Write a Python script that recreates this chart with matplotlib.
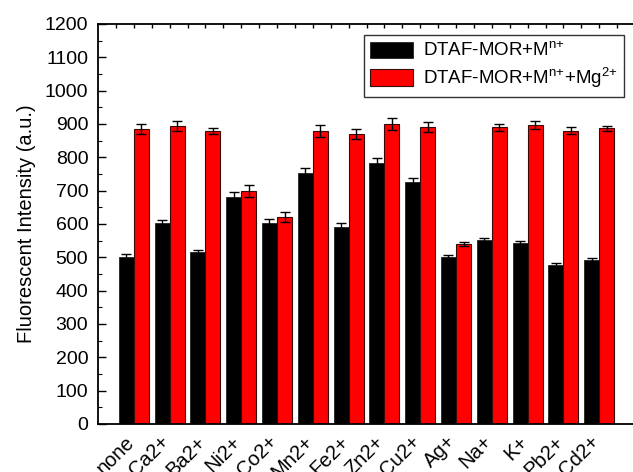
import numpy as np
import matplotlib
matplotlib.use("Agg")
import matplotlib.pyplot as plt
import matplotlib.transforms as mtransforms
from matplotlib.ticker import MultipleLocator, FixedLocator

plt.rcParams['font.family'] = ['Liberation Sans', 'DejaVu Sans']
plt.rcParams['mathtext.default'] = 'regular'

# metal ions tested
ions = ['none', 'Ca2+', 'Ba2+', 'Ni2+', 'Co2+', 'Mn2+', 'Fe2+', 'Zn2+',
        'Cu2+', 'Ag+', 'Na+', 'K+', 'Pb2+', 'Cd2+']

# DTAF-MOR + M(n+)
mor_m = [500, 602, 517, 682, 602, 752, 592, 782, 727, 502, 551, 542, 476, 491]
mor_m_err = [10, 10, 6, 13, 13, 15, 12, 17, 12, 4, 7, 8, 8, 8]

# DTAF-MOR + M(n+) + Mg(2+)
mor_m_mg = [885, 895, 879, 700, 621, 880, 870, 900, 890, 540, 890, 897, 880, 887]
mor_m_mg_err = [14, 15, 9, 18, 16, 18, 14, 18, 15, 7, 10, 13, 10, 8]

x = np.arange(len(ions))
w = 0.42

fig = plt.figure(figsize=(6.33, 4.72), dpi=100)
ax = fig.add_axes([98/633, 48/472, 537/633, 400/472])

err_kw = dict(ecolor='black', elinewidth=1.0, capsize=3.5, capthick=1.0)
ax.bar(x - w/2, mor_m, w, color='black', edgecolor='#222222', linewidth=0.6,
       yerr=mor_m_err, error_kw=err_kw, label='DTAF-MOR+M$^{n{+}}$')
ax.bar(x + w/2, mor_m_mg, w, color='#ff0000', edgecolor='#3a0a0a', linewidth=0.8,
       yerr=mor_m_mg_err, error_kw=err_kw, label='DTAF-MOR+M$^{n{+}}$+Mg$^{2{+}}$')

ax.set_xlim(-1, 14)
ax.set_ylim(0, 1200)

ax.yaxis.set_major_locator(MultipleLocator(100))
ax.yaxis.set_minor_locator(MultipleLocator(50))
ax.tick_params(axis='y', which='major', direction='in', length=6, width=1.0,
               labelsize=14, pad=7, right=False)
ax.tick_params(axis='y', which='minor', direction='in', length=3, width=0.8)

ax.set_xticks(x)
ax.set_xticklabels(ions, rotation=45, ha='right', va='top', fontsize=14.5)
ax.xaxis.set_minor_locator(FixedLocator(np.arange(-0.5, 14, 1.0)))
ax.tick_params(axis='x', which='both', direction='in', length=0, pad=6,
               top=True, labeltop=False)
for t in ax.xaxis.get_major_ticks() + ax.xaxis.get_minor_ticks():
    t.tick2line.set_markersize(3)
    t.tick2line.set_markeredgewidth(1.0)

# nudge the rotated category labels so their ends sit under each group
shift = mtransforms.ScaledTranslation(4/100, 0, fig.dpi_scale_trans)
for lab in ax.get_xticklabels():
    lab.set_transform(lab.get_transform() + shift)

for s in ax.spines.values():
    s.set_linewidth(1.3)
ax.spines['right'].set_visible(False)

ax.set_ylabel('Fluorescent Intensity (a.u.)', fontsize=14.5, labelpad=6)

leg = ax.legend(loc='upper right', bbox_to_anchor=(624/633, 1 - 35/472),
                bbox_transform=fig.transFigure, borderaxespad=0,
                fontsize=13.5, frameon=True, fancybox=False, edgecolor='black',
                handlelength=2.3, handleheight=0.95, borderpad=0.35,
                labelspacing=0.3, handletextpad=0.5)
leg.get_frame().set_linewidth(1.0)

fig.savefig('out.png', dpi=100)
